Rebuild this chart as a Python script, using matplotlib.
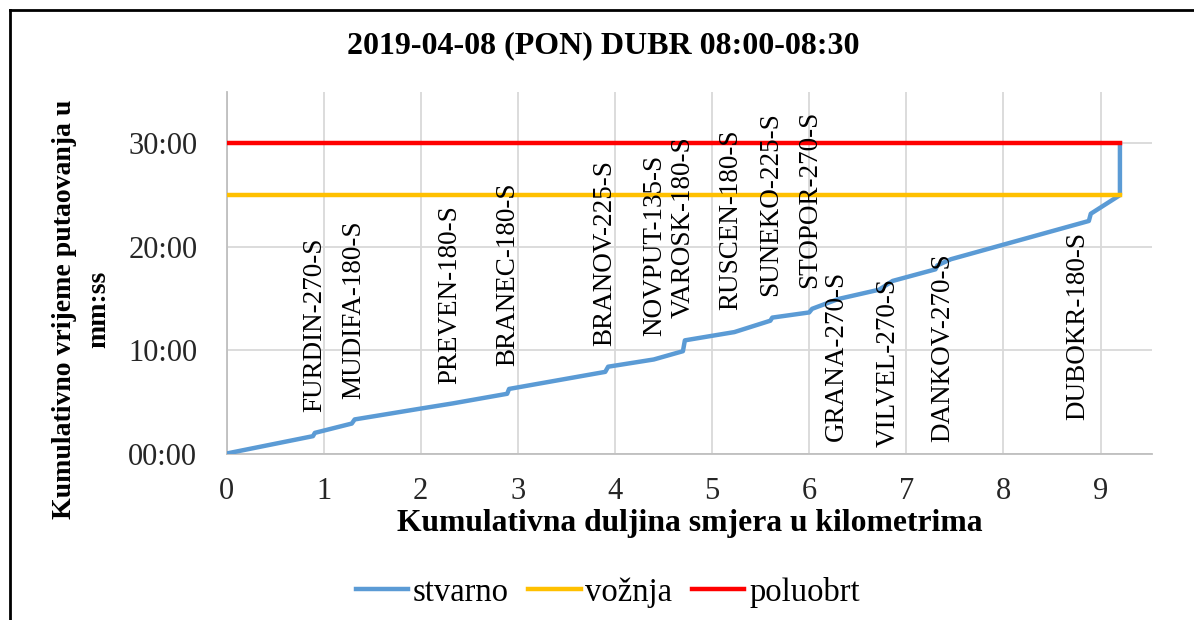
import matplotlib
matplotlib.use("Agg")
import matplotlib.pyplot as plt
from matplotlib.ticker import FuncFormatter, MultipleLocator
from matplotlib.lines import Line2D

plt.rcParams['font.family'] = ['Liberation Serif', 'DejaVu Serif']

title = "2019-04-08 (PON) DUBR 08:00-08:30"

# stvarno: kumulativna duljina (km) / kumulativno vrijeme (min)
km_stvarno = [0, 0.89, 0.91, 1.29, 1.32, 2.0, 2.33, 2.89, 2.91, 3.90, 3.93,
              4.40, 4.70, 4.72, 5.23, 5.60, 5.62, 6.00, 6.03, 6.30, 6.72,
              6.86, 7.30, 7.32, 7.46, 8.88, 8.90, 9.2, 9.2]
min_stvarno = [0, 1.68, 2.0, 2.9, 3.3, 4.35, 4.85, 5.78, 6.25, 7.9, 8.4,
               9.1, 9.9, 10.95, 11.75, 12.85, 13.15, 13.65, 14.0, 14.95, 15.85,
               16.7, 17.82, 18.2, 18.8, 22.5, 23.2, 25, 30]

km_voznja = [0, 9.2]
min_voznja = [25, 25]
km_poluobrt = [0, 9.2]
min_poluobrt = [30, 30]

stanice = ["FURDIN-270-S", "MUDIFA-180-S", "PREVEN-180-S", "BRANEC-180-S",
           "BRANOV-225-S", "NOVPUT-135-S", "VAROSK-180-S", "RUSCEN-180-S",
           "SUNEKO-225-S", "STOPOR-270-S", "GRANA-270-S", "VILVEL-270-S",
           "DANKOV-270-S", "DUBOKR-180-S"]
km_stanice = [0.91, 1.31, 2.30, 2.90, 3.90, 4.41, 4.70, 5.19, 5.60, 6.0,
              6.28, 6.81, 7.38, 8.77]
min_stanice = [4.0, 5.3, 6.75, 8.5, 10.4, 11.4, 13.1, 13.85, 15.25, 16.05,
               1.25, 0.6, 1.1, 3.2]

fig = plt.figure(figsize=(11.94, 6.2), dpi=100)
ax = fig.add_axes([0.1897, 0.2685, 0.7751, 0.5835])

ax.plot(km_stvarno, min_stvarno, color='#5B9BD5', lw=3.2, label='stvarno', zorder=3)
ax.plot(km_voznja, min_voznja, color='#FFC000', lw=3.2, label='vožnja', zorder=3)
ax.plot(km_poluobrt, min_poluobrt, color='#FF0000', lw=3.2, label='poluobrt', zorder=3)

for name, x, y in zip(stanice, km_stanice, min_stanice):
    ax.text(x, y, name, rotation=90, ha='center', va='bottom',
            fontsize=19.5, color='black', zorder=4)

ax.set_xlim(0, 9.53)
ax.set_ylim(0, 35)
ax.xaxis.set_major_locator(MultipleLocator(1))
ax.yaxis.set_major_locator(MultipleLocator(10))
ax.yaxis.set_major_formatter(FuncFormatter(lambda v, p: "%02d:00" % int(v)))
ax.grid(True, color='#D9D9D9', lw=1.3, zorder=0)
ax.set_axisbelow(True)
for s in ['top', 'right']:
    ax.spines[s].set_visible(False)
for s in ['left', 'bottom']:
    ax.spines[s].set_color('#BFBFBF')
    ax.spines[s].set_linewidth(1.3)
ax.tick_params(length=0, labelsize=22, colors='#262626')
ax.tick_params(axis='x', pad=17)
ax.tick_params(axis='y', pad=21)

fig.text(0.505, 0.927, title, ha='center', va='center', fontsize=23, fontweight='bold')
fig.text(0.578, 0.156, "Kumulativna duljina smjera u kilometrima",
         ha='center', va='center', fontsize=22.8, fontweight='bold')
fig.text(0.0685, 0.5016, "Kumulativno vrijeme putaovanja u\nmm:ss", rotation=90,
         ha='center', va='center', fontsize=20, fontweight='bold', multialignment='center',
         linespacing=1.5)

fig.legend(loc='center', bbox_to_anchor=(0.509, 0.045), ncol=3, frameon=False,
           fontsize=23.5, handlelength=1.6, handletextpad=0.15, columnspacing=0.6)

# ramka slike
fig.add_artist(Line2D([0.008, 0.008], [0, 0.984], transform=fig.transFigure, color='black', lw=2))
fig.add_artist(Line2D([0.008, 1], [0.984, 0.984], transform=fig.transFigure, color='black', lw=2))

fig.savefig('out.png', dpi=100)
